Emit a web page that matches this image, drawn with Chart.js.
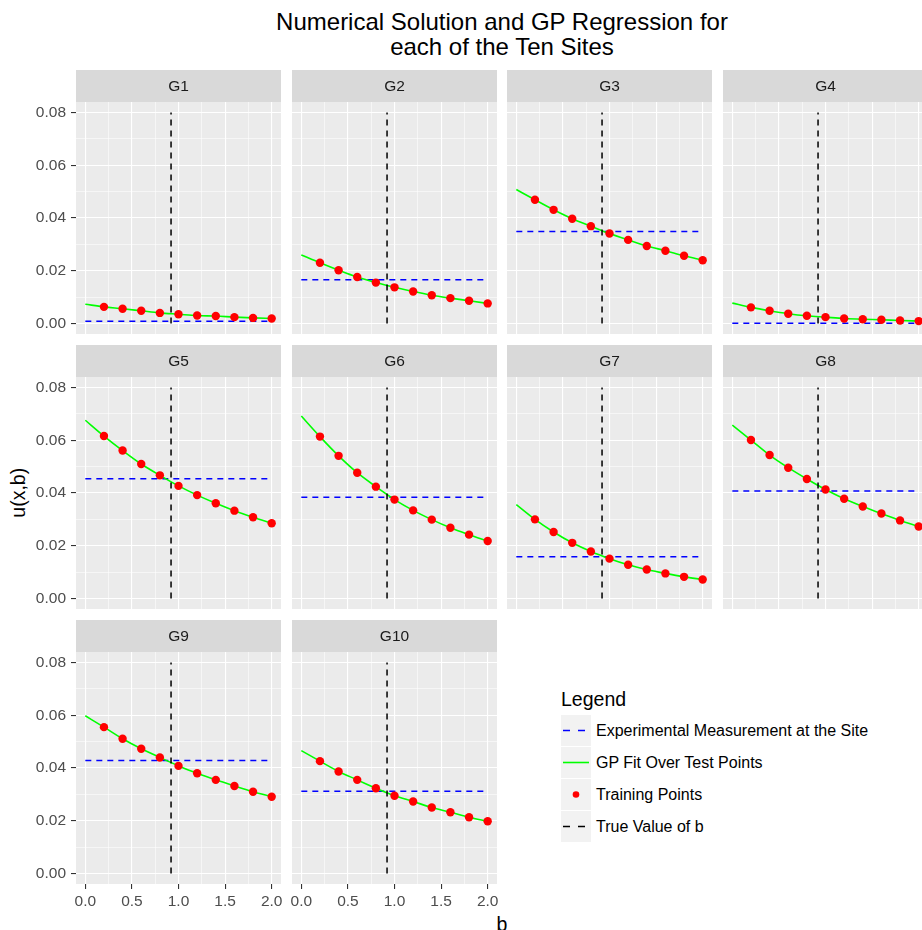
<!DOCTYPE html>
<html>
<head>
<meta charset="utf-8">
<script src="https://cdn.jsdelivr.net/npm/chart.js@4.4.1/dist/chart.umd.min.js"></script>
<style>
html, body { margin: 0; padding: 0; background: #fff; }
body { width: 922px; height: 930px; position: relative; overflow: hidden; font-family: "Liberation Sans", Arial, sans-serif; }
canvas.panel { position: absolute; }
.txt { position: absolute; white-space: nowrap; color: #000; }
.item { position: absolute; left: 561px; height: 31px; display: flex; align-items: center; font-size: 16px; color: #000; }
.item svg { margin-right: 5px; }
</style>
</head>
<body>
<div class="txt" style="left:0;width:1004px;top:9px;font-size:24px;line-height:25px;text-align:center;">Numerical Solution and GP Regression for<br>each of the Ten Sites</div>
<div class="txt" style="left:0;width:1004px;top:915px;font-size:19.5px;line-height:19.5px;text-align:center;">b</div>
<div class="txt" style="left:-81px;width:200px;top:483px;font-size:19.5px;line-height:19.5px;text-align:center;transform:rotate(-90deg);">u(x,b)</div>

<div class="txt" style="left:561px;top:690px;font-size:19.5px;line-height:19.5px;">Legend</div>
<div class="item" style="top:715px;"><svg width="30" height="31"><rect width="30" height="31" fill="#F2F2F2"/><line x1="2" y1="15.5" x2="28" y2="15.5" stroke="#0000FF" stroke-width="1.6" stroke-dasharray="7,8"/></svg>Experimental Measurement at the Site</div>
<div class="item" style="top:747px;"><svg width="30" height="31"><rect width="30" height="31" fill="#F2F2F2"/><line x1="2" y1="15.5" x2="28" y2="15.5" stroke="#00FF00" stroke-width="1.6"/></svg>GP Fit Over Test Points</div>
<div class="item" style="top:779px;"><svg width="30" height="31"><rect width="30" height="31" fill="#F2F2F2"/><circle cx="15" cy="15.5" r="3.3" fill="#FF0000"/></svg>Training Points</div>
<div class="item" style="top:811px;"><svg width="30" height="31"><rect width="30" height="31" fill="#F2F2F2"/><line x1="2" y1="15.5" x2="28" y2="15.5" stroke="#000000" stroke-width="1.6" stroke-dasharray="7,8"/></svg>True Value of b</div>

<script>
// ---- data ----
const sites = ['G1', 'G2', 'G3', 'G4', 'G5', 'G6', 'G7', 'G8', 'G9', 'G10'];
const bTrain = [0.2, 0.4, 0.6, 0.8, 1.0, 1.2, 1.4, 1.6, 1.8, 2.0];
const trueB = 0.92;

const trainG1 = [0.0063, 0.0056, 0.0048, 0.0040, 0.0035, 0.0030, 0.0028, 0.0024, 0.0021, 0.0019];
const trainG2 = [0.0230, 0.0202, 0.0176, 0.0155, 0.0137, 0.0121, 0.0107, 0.0096, 0.0086, 0.0076];
const trainG3 = [0.0469, 0.0431, 0.0397, 0.0369, 0.0341, 0.0317, 0.0294, 0.0276, 0.0257, 0.0240];
const trainG4 = [0.0061, 0.0048, 0.0037, 0.0029, 0.0024, 0.0019, 0.0016, 0.0014, 0.0011, 0.0009];
const trainG5 = [0.0616, 0.0561, 0.0510, 0.0467, 0.0427, 0.0392, 0.0361, 0.0333, 0.0308, 0.0285];
const trainG6 = [0.0614, 0.0541, 0.0477, 0.0424, 0.0375, 0.0334, 0.0299, 0.0268, 0.0242, 0.0218];
const trainG7 = [0.0300, 0.0252, 0.0211, 0.0178, 0.0151, 0.0128, 0.0110, 0.0095, 0.0082, 0.0072];
const trainG8 = [0.0601, 0.0544, 0.0496, 0.0453, 0.0413, 0.0378, 0.0349, 0.0322, 0.0296, 0.0273];
const trainG9 = [0.0555, 0.0511, 0.0473, 0.0440, 0.0408, 0.0380, 0.0355, 0.0332, 0.0310, 0.0291];
const trainG10 = [0.0426, 0.0387, 0.0355, 0.0323, 0.0295, 0.0273, 0.0250, 0.0232, 0.0213, 0.0198];
const training = [trainG1, trainG2, trainG3, trainG4, trainG5, trainG6, trainG7, trainG8, trainG9, trainG10];

// GP fit value at b = 0 (the fit then runs through the training points)
const fitAtZero = [0.0073, 0.0260, 0.0508, 0.0077, 0.0676, 0.0692, 0.0356, 0.0657, 0.0598, 0.0466];
// experimental measurement (blue dashed)
const measured = [0.0008, 0.0166, 0.0349, 0.0001, 0.0454, 0.0384, 0.0158, 0.0408, 0.0428, 0.0312];

const xMajor = [0, 0.5, 1.0, 1.5, 2.0];
const xMinor = [0.25, 0.75, 1.25, 1.75];
const yMajor = [0, 0.02, 0.04, 0.06, 0.08];
const yMinor = [0.01, 0.03, 0.05, 0.07];

// ---- layout ----
const STRIP_H = 32, PLOT_H = 232, PANEL_W = 205;
const colLeft = [76, 292, 507, 723];
const rowTop = [70, 345, 620];
const PAD = 6, PAD_BOTTOM = 16, Y_AXIS_W = 76, X_AXIS_H = 30;
const FONT = '"Liberation Sans", Arial, sans-serif';

const isIn = (arr, v) => arr.some(m => Math.abs(m - v) < 1e-9);

const panelPlugin = {
    id: 'strip',
    beforeDraw(chart, args, opts) {
        const { ctx, chartArea: a } = chart;
        ctx.save();
        ctx.fillStyle = '#EBEBEB';
        ctx.fillRect(a.left, a.top, a.right - a.left, a.bottom - a.top);
        ctx.fillStyle = '#D9D9D9';
        ctx.fillRect(a.left, a.top - STRIP_H, a.right - a.left, STRIP_H);
        ctx.fillStyle = '#1A1A1A';
        ctx.font = '15.5px ' + FONT;
        ctx.textAlign = 'center';
        ctx.textBaseline = 'middle';
        ctx.fillText(opts.label, (a.left + a.right) / 2, a.top - STRIP_H / 2 + 1);
        ctx.restore();
    }
};

sites.forEach((site, i) => {
    const col = i % 4;
    const row = Math.floor(i / 4);
    const hasY = col === 0;
    const hasX = row === 2;

    const canvas = document.createElement('canvas');
    canvas.className = 'panel';
    const left = hasY ? 0 : colLeft[col] - PAD;
    const width = hasY ? Y_AXIS_W + PANEL_W + PAD : PANEL_W + 2 * PAD;
    const height = STRIP_H + PLOT_H + (hasX ? X_AXIS_H : PAD_BOTTOM);
    canvas.width = width;
    canvas.height = height;
    canvas.style.left = left + 'px';
    canvas.style.top = rowTop[row] + 'px';
    canvas.style.width = width + 'px';
    canvas.style.height = height + 'px';
    document.body.appendChild(canvas);

    const train = training[i];
    const fit = [{ x: 0, y: fitAtZero[i] }].concat(bTrain.map((b, k) => ({ x: b, y: train[k] })));

    new Chart(canvas, {
        type: 'scatter',
        data: {
            datasets: [
                {
                    label: 'Training Points',
                    data: bTrain.map((b, k) => ({ x: b, y: train[k] })),
                    showLine: false,
                    pointRadius: 4.2,
                    pointBackgroundColor: '#FF0000',
                    pointBorderWidth: 0,
                    order: 0
                },
                {
                    label: 'True Value of b',
                    data: [{ x: trueB, y: 0 }, { x: trueB, y: 0.08 }],
                    showLine: true,
                    borderColor: '#000000',
                    borderWidth: 1.5,
                    borderDash: [6, 5],
                    pointRadius: 0,
                    order: 1
                },
                {
                    label: 'GP Fit Over Test Points',
                    data: fit,
                    showLine: true,
                    borderColor: '#00FF00',
                    borderWidth: 1.6,
                    cubicInterpolationMode: 'monotone',
                    pointRadius: 0,
                    order: 2
                },
                {
                    label: 'Experimental Measurement at the Site',
                    data: [{ x: 0, y: measured[i] }, { x: 2, y: measured[i] }],
                    showLine: true,
                    borderColor: '#0000FF',
                    borderWidth: 1.5,
                    borderDash: [6, 5],
                    pointRadius: 0,
                    order: 3
                }
            ]
        },
        options: {
            responsive: false,
            animation: false,
            events: [],
            layout: {
                padding: { top: STRIP_H, left: hasY ? 0 : PAD, right: PAD, bottom: hasX ? 0 : PAD_BOTTOM }
            },
            plugins: {
                legend: { display: false },
                tooltip: { enabled: false },
                strip: { label: site }
            },
            scales: {
                x: {
                    type: 'linear',
                    min: -0.1,
                    max: 2.1,
                    afterFit(s) { s.height = hasX ? X_AXIS_H : 0; },
                    afterBuildTicks(s) {
                        s.ticks = xMajor.concat(xMinor).sort((a, b) => a - b).map(v => ({ value: v }));
                    },
                    border: { display: false },
                    grid: {
                        color: '#FFFFFF',
                        lineWidth: c => (c.tick && isIn(xMajor, c.tick.value)) ? 1.1 : 0.55,
                        drawTicks: hasX,
                        tickLength: hasX ? 5 : 0,
                        tickWidth: 1.1,
                        tickColor: c => (c.tick && isIn(xMajor, c.tick.value)) ? '#333333' : 'rgba(0,0,0,0)'
                    },
                    ticks: {
                        display: hasX,
                        autoSkip: false,
                        maxRotation: 0,
                        padding: 3,
                        color: '#4D4D4D',
                        font: { size: 15.5, family: FONT },
                        callback: v => isIn(xMajor, v) ? v.toFixed(1) : ''
                    }
                },
                y: {
                    type: 'linear',
                    min: -0.004,
                    max: 0.084,
                    afterFit(s) { s.width = hasY ? Y_AXIS_W : 0; },
                    afterBuildTicks(s) {
                        s.ticks = yMajor.concat(yMinor).sort((a, b) => a - b).map(v => ({ value: v }));
                    },
                    border: { display: false },
                    grid: {
                        color: '#FFFFFF',
                        lineWidth: c => (c.tick && isIn(yMajor, c.tick.value)) ? 1.1 : 0.55,
                        drawTicks: hasY,
                        tickLength: hasY ? 5 : 0,
                        tickWidth: 1.1,
                        tickColor: c => (c.tick && isIn(yMajor, c.tick.value)) ? '#333333' : 'rgba(0,0,0,0)'
                    },
                    ticks: {
                        display: hasY,
                        autoSkip: false,
                        padding: 5,
                        color: '#4D4D4D',
                        font: { size: 15.5, family: FONT },
                        callback: v => isIn(yMajor, v) ? v.toFixed(2) : ''
                    }
                }
            }
        },
        plugins: [panelPlugin]
    });
});
</script>
</body>
</html>
